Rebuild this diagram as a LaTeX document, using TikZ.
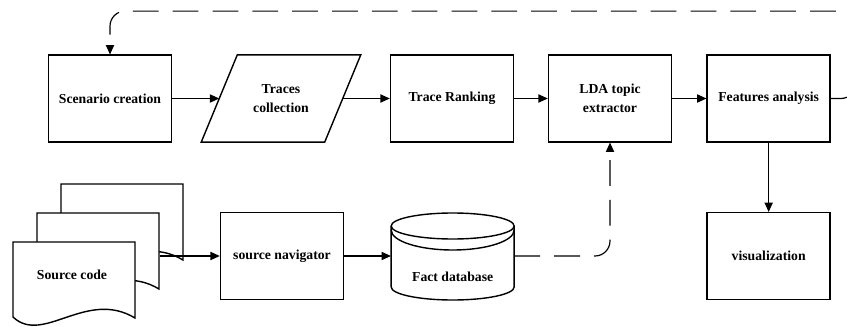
\documentclass[tikz,border=0pt]{standalone}
\usepackage{fontspec}
\setmainfont{Liberation Serif}
\usepackage{tikz}
\usetikzlibrary{arrows.meta}

\begin{document}
\begin{tikzpicture}[
	box/.style={draw,line width=1.2pt,minimum width=3.69cm,minimum height=2.6cm,align=center},
	plain/.style={minimum width=3.69cm,minimum height=2.6cm,align=center},
	arr/.style={line width=1pt,-{Triangle[length=8pt,width=7pt]}},
	dashline/.style={arr,dash pattern=on 22pt off 12pt,rounded corners=0.45cm},
	font=\fontsize{11.7}{16}\selectfont\bfseries
]
	\useasboundingbox (0,0) rectangle (25.41,9.78);
	\clip (0,0) rectangle (25.41,9.78);
	\node[box] (scen) at (3.3,6.825) {Scenario creation};
	\node[plain] (traces) at (8.43,6.825) {Traces\\collection};
	\draw[line width=1.2pt] ([xshift=-0.54cm]traces.south west) -- ([xshift=0.54cm]traces.north west) -- ([xshift=0.54cm]traces.north east) -- ([xshift=-0.54cm]traces.south east) -- cycle;
	\node[box] (rank) at (13.56,6.825) {Trace Ranking};
	\node[box] (lda) at (18.3,6.825) {LDA topic\\extractor};
	\node[box] (feat) at (23.06,6.825) {Features analysis};
	\node[box] (visual) at (23.06,2.1) {visualization};
	\foreach \x/\y in {1.83/4.26,1.11/3.39,0.39/2.52}{
		\draw[line width=1.2pt,fill=white] (\x,\y) -- (\x+3.66,\y) -- (\x+3.66,\y-2.28) .. controls (\x+2.2,\y-1.4) and (\x+0.9,\y-3.1) .. (\x,\y-2.25) -- cycle;
	}
	\node (src) at (2.16,1.53) {Source code};
	\coordinate (srcout) at (4.8,2.1);
	\node[box] (nav) at (8.46,2.1) {source navigator};
	\node[plain] (fact) at (13.58,2.1) {};
	\node (factlabel) at (13.58,1.47) {Fact database};
	\draw[line width=1.2pt] (11.735,3.0) -- (11.735,1.17) arc (180:360:1.845 and 0.39) -- (15.425,3.0);
	\draw[line width=1.2pt] (13.58,3.0) ellipse (1.845 and 0.39);
	\draw[line width=1.2pt] (11.735,2.88) arc (180:360:1.845 and 0.6);
	\draw[arr] (scen) -- (traces);
	\draw[arr] (traces) -- (rank);
	\draw[arr] (rank) -- (lda);
	\draw[arr] (lda) -- (feat);
	\draw[arr] (feat) -- (visual);
	\draw[arr] (srcout) -- (nav.west);
	\draw[arr] (nav) -- (fact);
	\draw[dashline] (fact.east) -| (lda.south);
	\draw[dashline] (feat.east) -- ++(0.75,0) |- ([yshift=1.3cm]scen.north) -- (scen.north);
\end{tikzpicture}
\end{document}
